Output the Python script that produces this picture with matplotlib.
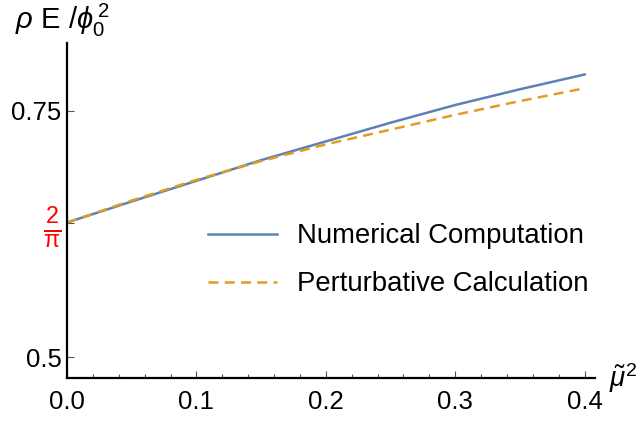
import numpy as np
import matplotlib
matplotlib.use("Agg")
import matplotlib.pyplot as plt

plt.rcParams['font.family'] = ['Liberation Sans', 'DejaVu Sans']
plt.rcParams['mathtext.fontset'] = 'custom'
plt.rcParams['mathtext.rm'] = 'Liberation Sans'
plt.rcParams['mathtext.it'] = 'Liberation Sans:italic'

# values
mu2 = [0.0, 0.05, 0.1, 0.15, 0.2, 0.25, 0.3, 0.35, 0.4]
numerical = [0.6366, 0.658, 0.679, 0.700, 0.719, 0.738, 0.756, 0.772, 0.787]
perturbative = [0.6366, 0.659, 0.680, 0.699, 0.716, 0.731, 0.746, 0.760, 0.773]

xticks = [0.0, 0.1, 0.2, 0.3, 0.4]
xticklabels = ['0.0', '0.1', '0.2', '0.3', '0.4']

blue = '#5e81b5'
orange = '#e19c24'

fig = plt.figure(figsize=(6.4, 4.21), dpi=100)
ax = fig.add_axes([0.1047, 0.1029, 0.8250, 0.7950])

ax.plot(mu2, numerical, color=blue, lw=1.8, label='Numerical Computation')
ax.plot(mu2, perturbative, color=orange, lw=1.8, dashes=(4, 2.5),
        label='Perturbative Calculation')

ax.set_xlim(0, 0.408)
ax.set_ylim(0.479, 0.819)

for s in ['top', 'right']:
	ax.spines[s].set_visible(False)
for s in ['left', 'bottom']:
	ax.spines[s].set_linewidth(1.6)

ax.set_xticks(xticks)
ax.set_xticklabels(xticklabels)
ax.set_xticks(np.arange(0, 0.41, 0.02), minor=True)
ax.set_yticks([0.5, 2 / np.pi, 0.75])
ax.set_yticklabels(['0.5', r'$\mathregular{\frac{2}{\pi}}$', '0.75'])
ax.tick_params(axis='both', which='major', direction='in', length=5, width=0.8,
               labelsize=18.5, color='#555555', pad=4)
ax.tick_params(axis='x', which='major', pad=9)
ax.tick_params(axis='x', which='minor', direction='in', length=3, width=0.8, color='#555555')
ax.get_yticklabels()[1].set_color('red')
ax.get_yticklabels()[1].set_fontsize(24)

fig.text(0.023, 0.93, r'$\rho$ E /$\phi_0^{\,2}$', fontsize=21, ha='left', va='baseline')
fig.text(0.952, 0.102, r'$\tilde{\mu}^2$', fontsize=20, ha='left', va='center')

ax.legend(loc='upper left', bbox_to_anchor=(0.22, 0.535), frameon=False,
          fontsize=19.8, handlelength=2.5, handletextpad=0.75, labelspacing=0.8)

fig.savefig('out.png', dpi=100)
